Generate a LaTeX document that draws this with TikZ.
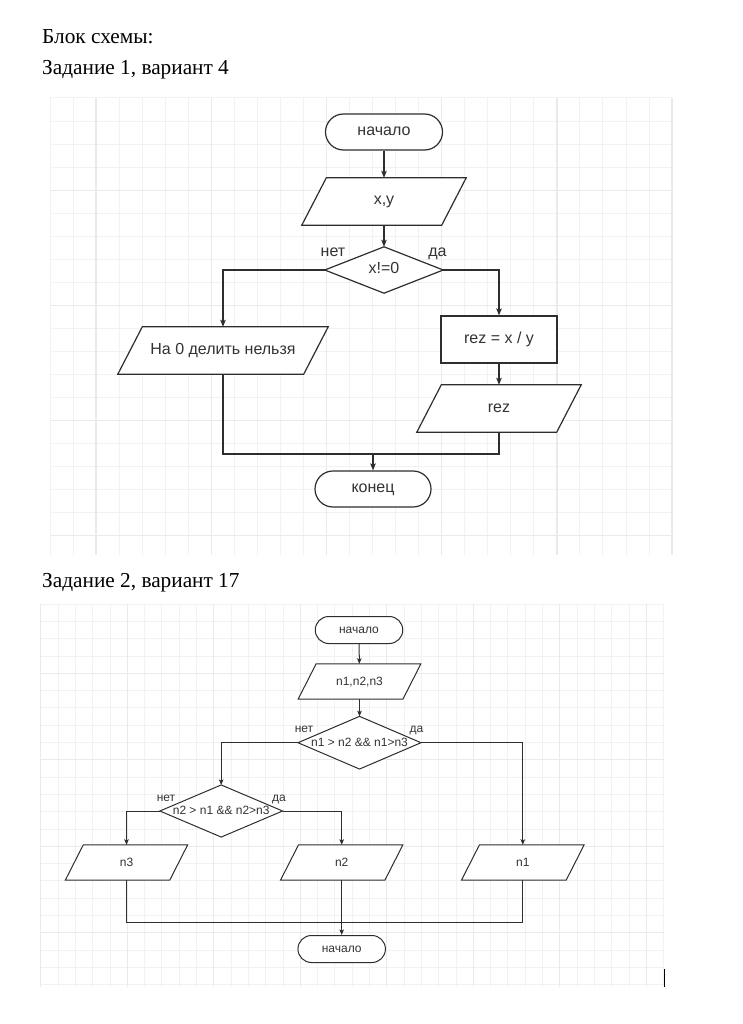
\documentclass[tikz,border=0pt]{standalone}
\usepackage{fontspec}
\setmainfont{Liberation Serif}
\newfontfamily\flowfont{Liberation Sans}
\usetikzlibrary{arrows.meta,calc}

\definecolor{linegray}{HTML}{2E2E2E}
\definecolor{txtgray}{HTML}{333333}
\definecolor{gridminor}{HTML}{F2F2F2}
\definecolor{gridmajor}{HTML}{EAEAEA}

\pgfdeclarelayer{gridlayer}
\pgfdeclarelayer{fills}
\pgfsetlayers{gridlayer,fills,main}

\tikzset{
  heading/.style={anchor=base west, inner sep=0pt, font=\fontsize{21.3}{25}\selectfont},
  gminor/.style={draw=gridminor, line width=1pt},
  gmajor/.style={draw=gridmajor, line width=1.3pt},
  % first flowchart (larger scale)
  txtA/.style={font=\flowfont\fontsize{16}{19}\selectfont, text=txtgray, inner sep=0pt,
    text height=0.7em, text depth=0pt},
  termA/.style={txtA, draw=linegray, line width=1.2pt, fill=white, rounded corners=18pt,
    minimum width=117pt, minimum height=36pt},
  slotA/.style={txtA, minimum width=#1, minimum height=47pt},
  procboxA/.style={txtA, draw=linegray, line width=1.2pt, fill=white,
    minimum width=116pt, minimum height=47pt},
  lineA/.style={draw=linegray, line width=1.2pt},
  arrA/.style={lineA, -{Stealth[length=7pt, width=5.5pt, inset=1.5pt]}},
  % second flowchart (smaller scale)
  txtB/.style={font=\flowfont\fontsize{12}{14}\selectfont, text=txtgray, inner sep=0pt,
    text height=0.7em, text depth=0pt},
  termB/.style={txtB, draw=linegray, line width=1pt, fill=white, rounded corners=13.5pt,
    minimum width=87.5pt, minimum height=27pt},
  slotB/.style={txtB, minimum width=#1, minimum height=35pt},
  lineB/.style={draw=linegray, line width=1pt},
  arrB/.style={lineB, -{Stealth[length=5.5pt, width=4.5pt, inset=1.2pt]}},
}

% parallelogram (input/output) behind a named text slot: name, skew, line width
\newcommand\ioshape[3]{%
  \begin{pgfonlayer}{fills}
    \draw[draw=linegray, line width=#3, fill=white]
      ($(#1.north west)+(#2,0)$) -- (#1.north east)
      -- ($(#1.south east)-(#2,0)$) -- (#1.south west) -- cycle;
  \end{pgfonlayer}}
% decision diamond behind a named text slot: name, line width
\newcommand\decshape[2]{%
  \begin{pgfonlayer}{fills}
    \draw[draw=linegray, line width=#2, fill=white]
      (#1.north) -- (#1.east) -- (#1.south) -- (#1.west) -- cycle;
  \end{pgfonlayer}}

\begin{document}
\begin{tikzpicture}[x=1pt, y=-1pt]
\useasboundingbox (0,0) rectangle (743,1024);

% ---------- page and grid paper ----------
\begin{pgfonlayer}{gridlayer}
  \fill[white] (0,0) rectangle (743,1024);
  % upper sheet
  \foreach \k in {0,...,27} \draw[gminor] ({50+23.04*\k},98) -- ({50+23.04*\k},555);
  \foreach \k in {0,...,19} \draw[gminor] (50,{98+23.04*\k}) -- (672.1,{98+23.04*\k});
  \foreach \k in {2,7,...,27} \draw[gmajor] ({50+23.04*\k},98) -- ({50+23.04*\k},555);
  \foreach \k in {4,9,14,19} \draw[gmajor] (50,{98+23.04*\k}) -- (672.1,{98+23.04*\k});
  % lower sheet
  \foreach \k in {0,...,36} \draw[gminor] ({40.8+17.3*\k},604.1) -- ({40.8+17.3*\k},987);
  \foreach \k in {0,...,22} \draw[gminor] (40.8,{604.1+17.3*\k}) -- (663.6,{604.1+17.3*\k});
  \foreach \k in {0,5,...,35} \draw[gmajor] ({40.8+17.3*\k},604.1) -- ({40.8+17.3*\k},987);
  \foreach \k in {4,9,14,19} \draw[gmajor] (40.8,{604.1+17.3*\k}) -- (663.6,{604.1+17.3*\k});
\end{pgfonlayer}

% headings
\node[heading] (title) at (42,43.5) {Блок схемы:};
\node[heading] (taskA) at (42,75) {Задание 1, вариант 4};
\node[heading] (taskB) at (42,587) {Задание 2, вариант 17};

% ---------- flowchart 1 ----------
\node[termA] (startA) at (384,132) {начало};
\node[slotA=164pt] (inA) at (384,201.5) {x,y};
\ioshape{inA}{24.5}{1.2pt}
\node[txtA, minimum width=118pt, minimum height=46pt] (decA) at (384,270) {x!=0};
\decshape{decA}{1.2pt}
\node[slotA=210pt] (noA) at (223,350.5) {На 0 делить нельзя};
\ioshape{noA}{24.5}{1.2pt}
\node[procboxA] (procA) at (499,339.5) {rez = x / y};
\node[slotA=164pt] (outA) at (499,408.5) {rez};
\ioshape{outA}{24.5}{1.2pt}
\node[termA, minimum width=116pt] (endA) at (373,489) {конец};
\coordinate (mergeA) at (373,454);

\node[txtA] (nolblA) at (333,253) {нет};
\node[txtA] (yeslblA) at (437.5,253) {да};

\draw[arrA] (startA) -- (inA);
\draw[arrA] (inA) -- (decA);
\draw[arrA] (decA.west) -| (noA.north);
\draw[arrA] (decA.east) -| (procA.north);
\draw[arrA] (procA) -- (outA);
\draw[lineA] (noA.south) |- (mergeA);
\draw[lineA] (outA.south) |- (mergeA);
\draw[arrA] (mergeA) -- (endA.north);

% ---------- flowchart 2 ----------
\node[termB] (startB) at (359,630) {начало};
\node[slotB=122.4pt] (inB) at (359.5,681.5) {n1,n2,n3};
\ioshape{inB}{18}{1pt}
\node[txtB, minimum width=122.6pt, minimum height=52.3pt] (decB) at (359.5,742.7) {n1 > n2 \&\& n1>n3};
\decshape{decB}{1pt}
\node[txtB, minimum width=122.3pt, minimum height=51.7pt] (decC) at (221.2,811) {n2 > n1 \&\& n2>n3};
\decshape{decC}{1pt}
\node[slotB=122pt] (outN3) at (126.5,862.5) {n3};
\ioshape{outN3}{18}{1pt}
\node[slotB=122pt] (outN2) at (341.7,862.5) {n2};
\ioshape{outN2}{18}{1pt}
\node[slotB=122.3pt] (outN1) at (522.8,862.5) {n1};
\ioshape{outN1}{18}{1pt}
\node[termB] (endB) at (341.7,949) {начало};
\coordinate (mergeB) at (341.7,922.7);

\node[txtB] (nolblB) at (304,729) {нет};
\node[txtB] (yeslblB) at (416.5,729) {да};
\node[txtB] (nolblC) at (166,798) {нет};
\node[txtB] (yeslblC) at (279,798) {да};

\draw[arrB] (startB) -- (inB);
\draw[arrB] (inB) -- (decB);
\draw[arrB] (decB.west) -| (decC.north);
\draw[arrB] (decB.east) -| (outN1.north);
\draw[arrB] (decC.west) -| (outN3.north);
\draw[arrB] (decC.east) -| (outN2.north);
\draw[lineB] (outN3.south) |- (mergeB);
\draw[lineB] (outN1.south) |- (mergeB);
\draw[arrB] (outN2.south) -- (endB.north);

% text cursor mark at the lower right
\draw[black, line width=1pt] (664.3,969) -- (664.3,986.7);
\end{tikzpicture}
\end{document}
